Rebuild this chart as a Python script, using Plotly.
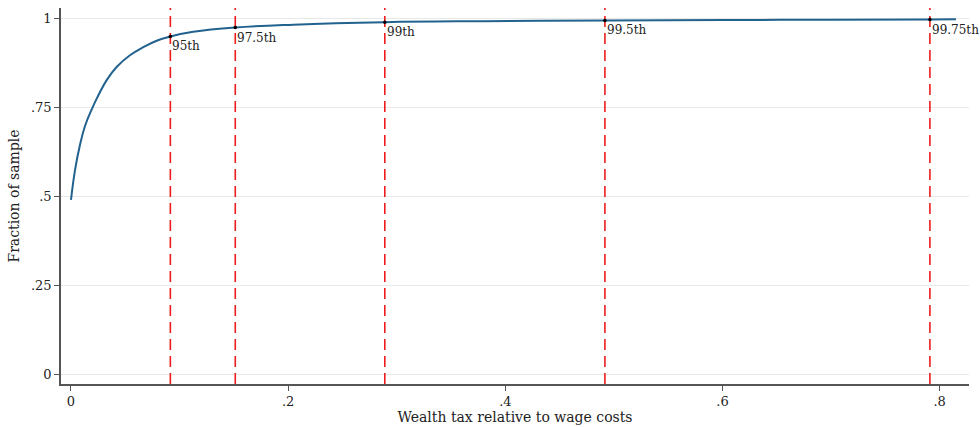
import plotly.graph_objects as go

# Empirical CDF of wealth tax relative to wage costs
tax_ratio = [0, 0.0037, 0.0083, 0.0129, 0.0191, 0.0237, 0.0329, 0.042, 0.0543,
             0.0666, 0.0789, 0.0915, 0.1126, 0.1513, 0.2047, 0.289, 0.38,
             0.4917, 0.6, 0.7, 0.791, 0.815]
cum_share = [0.49, 0.574, 0.645, 0.698, 0.745, 0.775, 0.827, 0.864, 0.897,
             0.920, 0.938, 0.95, 0.963, 0.975, 0.983, 0.99, 0.993,
             0.995, 0.9962, 0.997, 0.9975, 0.998]

# Percentile markers
pct_labels = ["95th", "97.5th", "99th", "99.5th", "99.75th"]
pct_x = [0.0915, 0.1513, 0.289, 0.4917, 0.791]
pct_y = [0.95, 0.975, 0.99, 0.995, 0.9975]

x_ticks = [0, 0.2, 0.4, 0.6, 0.8]
x_tick_text = ["0", ".2", ".4", ".6", ".8"]
y_ticks = [0, 0.25, 0.5, 0.75, 1]
y_tick_text = ["0", ".25", ".5", ".75", "1"]

FONT = "DejaVu Serif"
TXT = "#222222"
AXIS = "#555555"
Y_LO, Y_HI = -0.028, 1.03

fig = go.Figure()

# Vertical dashed percentile lines
for xv in pct_x:
    fig.add_trace(go.Scatter(
        x=[xv, xv], y=[Y_LO, Y_HI], mode="lines",
        line=dict(color="#ee1c1c", width=1.6, dash="11px,6px"),
        hoverinfo="skip", showlegend=False))

fig.add_trace(go.Scatter(
    x=tax_ratio, y=cum_share, mode="lines",
    line=dict(color="#21628e", width=2, shape="spline", smoothing=1.2),
    showlegend=False))

fig.add_trace(go.Scatter(
    x=pct_x, y=pct_y, mode="markers",
    marker=dict(color="black", size=3.5),
    showlegend=False))

for lab, xv, yv in zip(pct_labels, pct_x, pct_y):
    fig.add_annotation(
        x=xv, y=yv, text=lab, showarrow=False,
        xanchor="left", yanchor="top", yshift=-1,
        font=dict(family=FONT, size=12, color=TXT))

fig.update_layout(
    width=980, height=427,
    margin=dict(l=61, r=11, t=8, b=43),
    paper_bgcolor="white", plot_bgcolor="white",
    font=dict(family=FONT, color=TXT),
)

fig.update_xaxes(
    range=[-0.0092, 0.827], tickvals=x_ticks, ticktext=x_tick_text,
    ticks="outside", ticklen=5, tickwidth=1.2, tickcolor=AXIS,
    showline=True, linecolor=AXIS, linewidth=1.5,
    showgrid=False, zeroline=False, automargin=False,
    tickfont=dict(family=FONT, size=13, color=TXT),
    title=dict(text="Wealth tax relative to wage costs",
               font=dict(family=FONT, size=14, color=TXT), standoff=3),
)
fig.update_yaxes(
    range=[Y_LO, Y_HI], tickvals=y_ticks, ticktext=y_tick_text,
    ticks="outside", ticklen=5, tickwidth=1.2, tickcolor=AXIS,
    showline=True, linecolor=AXIS, linewidth=1.5,
    showgrid=True, gridcolor="#e8e8e8", gridwidth=1, zeroline=False,
    automargin=False,
    tickfont=dict(family=FONT, size=13, color=TXT),
    title=dict(text="Fraction of sample",
               font=dict(family=FONT, size=14, color=TXT), standoff=8),
)

fig.write_html("out.html")
